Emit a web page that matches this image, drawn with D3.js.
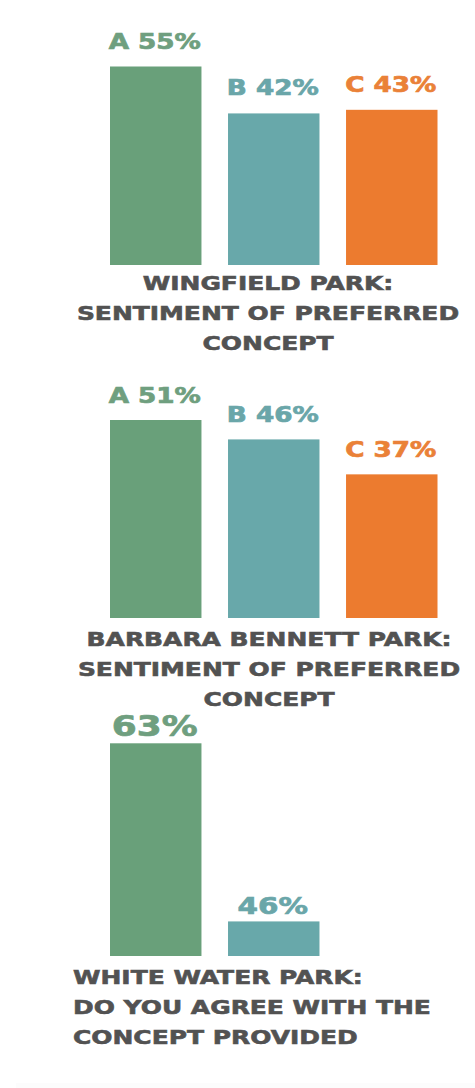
<!DOCTYPE html>
<html>
<head>
<meta charset="utf-8">
<script src="https://cdn.jsdelivr.net/npm/d3@7"></script>
<style>
  body { margin: 0; background: #fff; }
  svg { display: block; }
</style>
</head>
<body>
<svg id="chart" width="475" height="1088"></svg>
<script>
// data
const wingfieldKeys = ['A', 'B', 'C']
const wingfieldValues = [55, 42, 43]
const wingfieldTitle = ['WINGFIELD PARK:', 'SENTIMENT OF PREFERRED', 'CONCEPT']

const bennettKeys = ['A', 'B', 'C']
const bennettValues = [51, 46, 37]
const bennettTitle = ['BARBARA BENNETT PARK:', 'SENTIMENT OF PREFERRED', 'CONCEPT']

const whiteWaterKeys = ['A', 'B']
const whiteWaterValues = [63, 46]
const whiteWaterTitle = ['WHITE WATER PARK:', 'DO YOU AGREE WITH THE', 'CONCEPT PROVIDED']

const barColors = ['#69a07a', '#68a8aa', '#ec7b2f']
const labelColors = ['#6f9f7f', '#6aa6a9', '#ea8138']
const titleColor = '#525252'
const stretch = 1.28

const svg = d3.select('#chart')

// faint strip at the bottom of the picture
svg.append('rect')
  .attr('x', 16).attr('y', 1083).attr('width', 459).attr('height', 5)
  .attr('fill', '#fcfcfc')

const x = d3.scaleBand()
  .domain([0, 1, 2])
  .range([110, 437.5])
  .paddingInner(0.225)
  .paddingOuter(0)

const panel = ({ keys, values, title, baseline, barHeight, domainMin, labelSize, labelOffset, showKey, titleX, titleY, titleAnchor }) => {
  const g = svg.append('g')
  const y = d3.scaleLinear()
    .domain([domainMin, d3.max(values)])
    .range([baseline, baseline - barHeight])

  const data = values.map((v, i) => ({ key: keys[i], value: v, i }))

  g.selectAll('rect.bar')
    .data(data)
    .enter().append('rect')
      .attr('class', 'bar')
      .attr('x', d => x(d.i))
      .attr('y', d => y(d.value))
      .attr('width', x.bandwidth())
      .attr('height', d => baseline - y(d.value))
      .attr('fill', d => barColors[d.i])

  g.selectAll('text.label')
    .data(data)
    .enter().append('text')
      .attr('class', 'label')
      .attr('transform', d => `translate(${x(d.i) + x.bandwidth() / 2 - 1},${y(d.value) - labelOffset}) scale(${stretch},1)`)
      .attr('text-anchor', 'middle')
      .attr('font-family', 'DejaVu Sans')
      .attr('font-weight', 'bold')
      .attr('font-size', (d, i) => Array.isArray(labelSize) ? labelSize[i] : labelSize)
      .attr('fill', d => labelColors[d.i])
      .attr('stroke', d => labelColors[d.i])
      .attr('stroke-width', 0.7)
      .text(d => showKey ? `${d.key} ${d.value}%` : `${d.value}%`)

  g.selectAll('text.title')
    .data(title)
    .enter().append('text')
      .attr('class', 'title')
      .attr('transform', (d, i) => `translate(${titleX},${titleY + i * 30}) scale(${stretch},1)`)
      .attr('text-anchor', titleAnchor)
      .attr('font-family', 'DejaVu Sans')
      .attr('font-weight', 'bold')
      .attr('font-size', 19.5)
      .attr('fill', titleColor)
      .attr('stroke', titleColor)
      .attr('stroke-width', 0.6)
      .text(d => d)
}

panel({
  keys: wingfieldKeys, values: wingfieldValues, title: wingfieldTitle,
  baseline: 265, barHeight: 198.5, domainMin: 0,
  labelSize: 20.5, labelOffset: 18, showKey: true,
  titleX: 268, titleY: 289.5, titleAnchor: 'middle'
})

panel({
  keys: bennettKeys, values: bennettValues, title: bennettTitle,
  baseline: 618, barHeight: 198, domainMin: 0,
  labelSize: 20.5, labelOffset: 17, showKey: true,
  titleX: 269, titleY: 646, titleAnchor: 'middle'
})

panel({
  keys: whiteWaterKeys, values: whiteWaterValues, title: whiteWaterTitle,
  baseline: 956, barHeight: 212.7, domainMin: 42.7,
  labelSize: [28, 23], labelOffset: 7, showKey: false,
  titleX: 73, titleY: 983.5, titleAnchor: 'start'
})
</script>
</body>
</html>
